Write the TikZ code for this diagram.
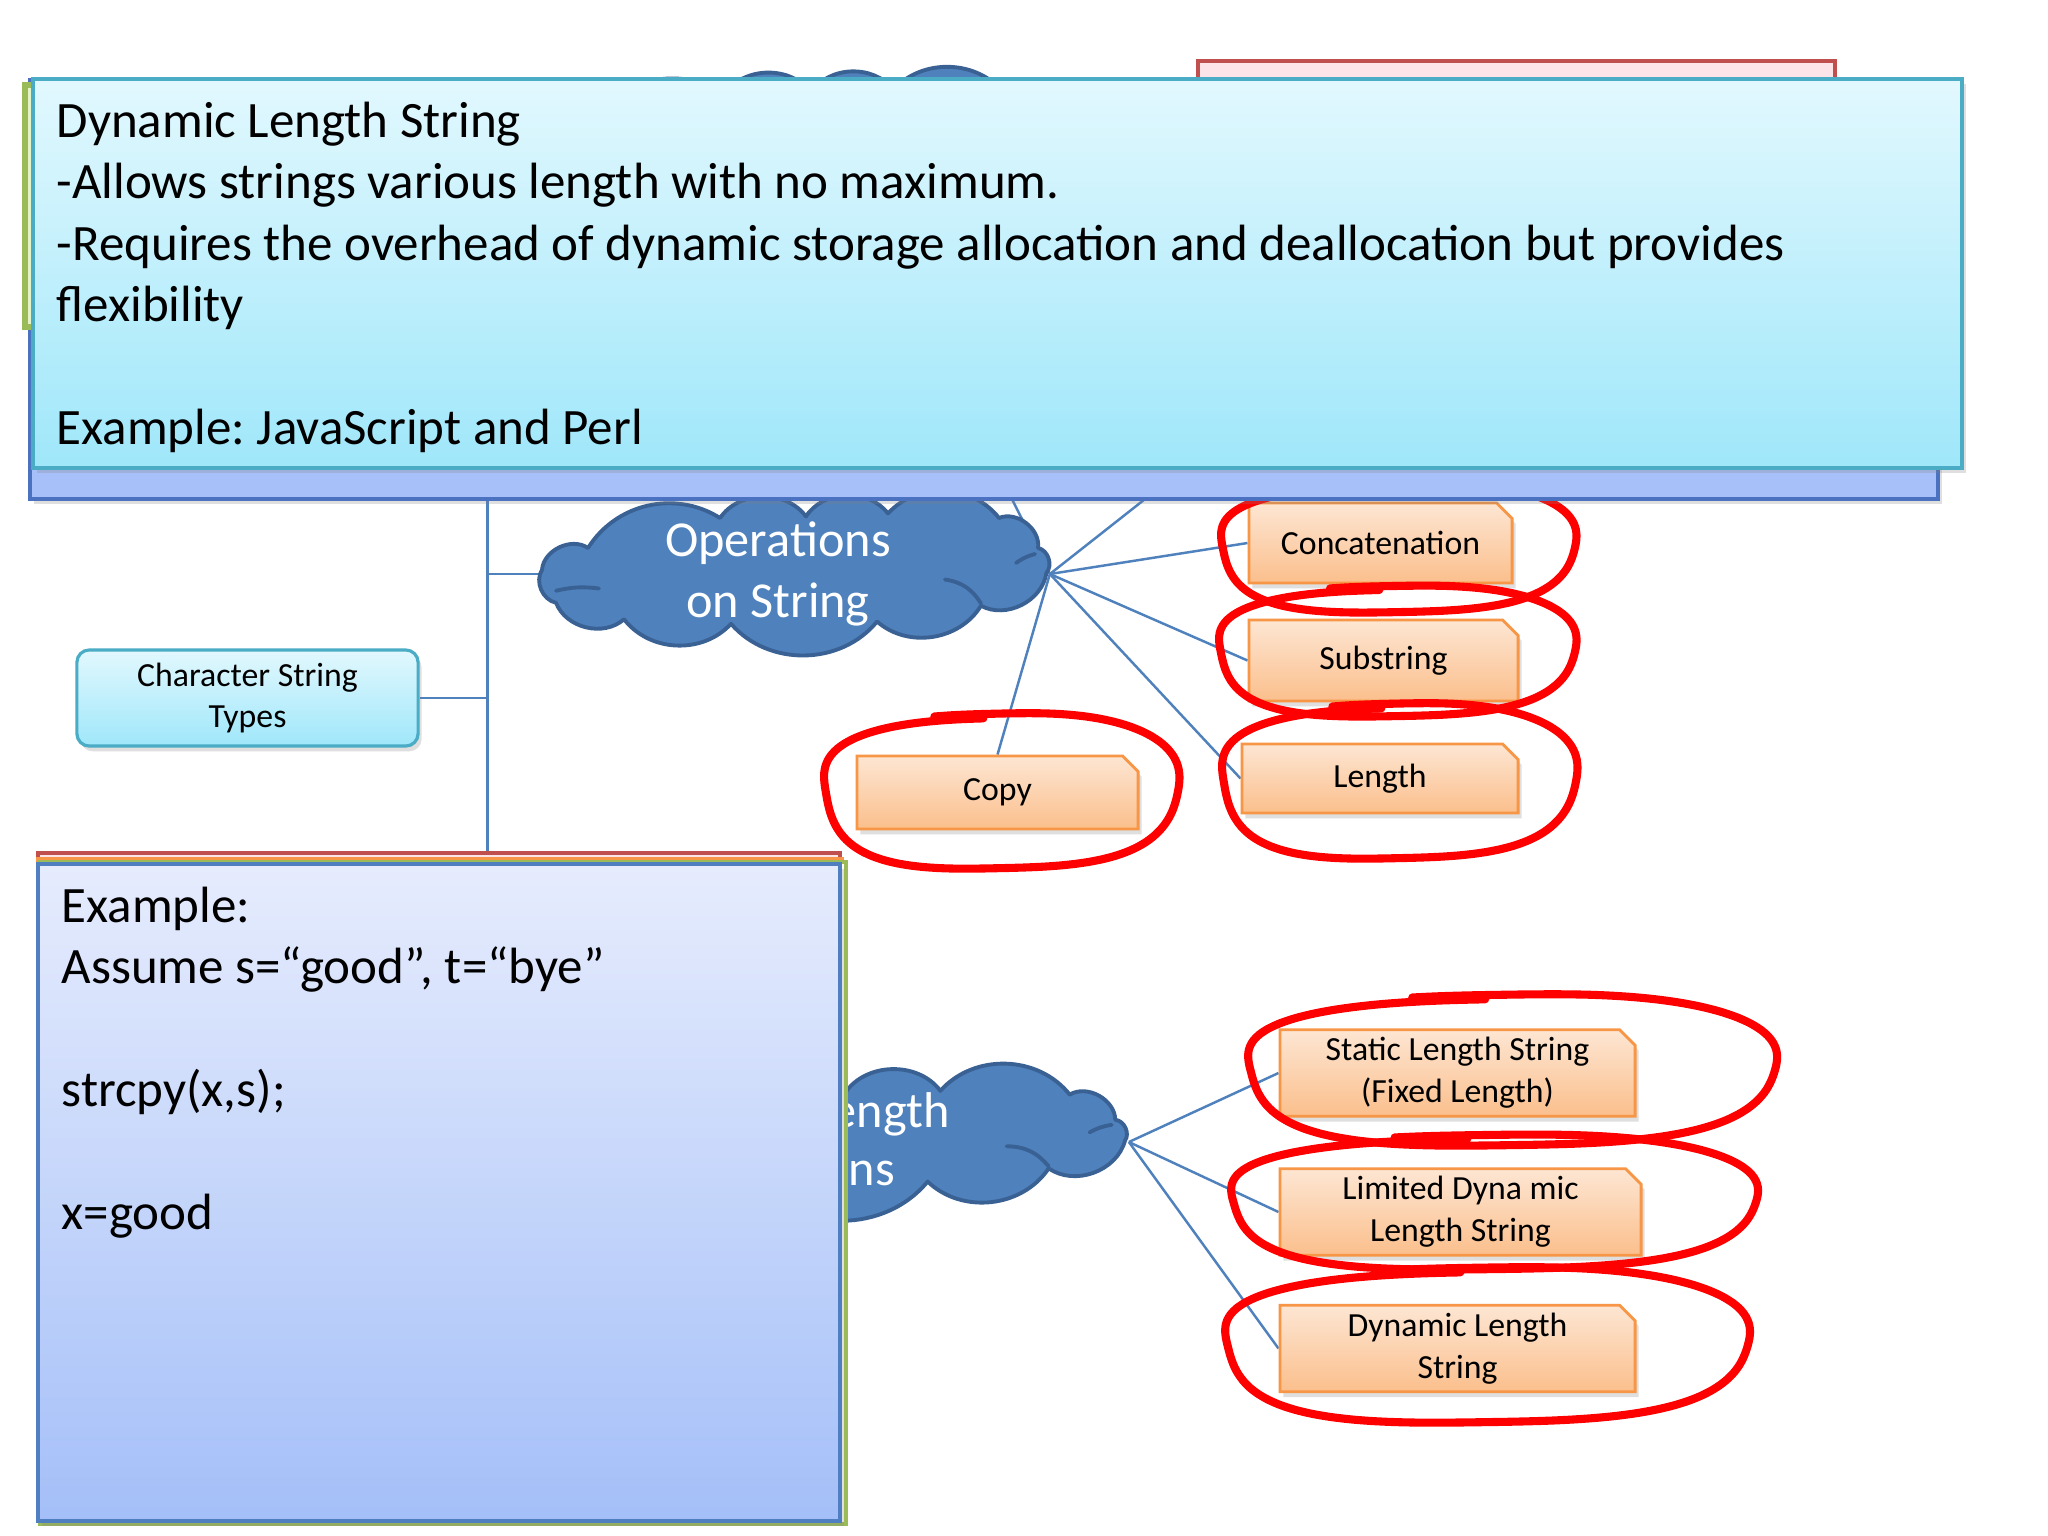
\documentclass[tikz,border=0pt]{standalone}
\usepackage{fontspec}
\setmainfont{Carlito}
\frenchspacing
\usetikzlibrary{shapes.misc,shadows}
\definecolor{cyanborder}{HTML}{4BACC6}
\definecolor{cyantop}{HTML}{E2F8FE}
\definecolor{cyanbot}{HTML}{9FE7FA}
\definecolor{lavfill}{HTML}{A7C0F9}
\definecolor{lavborder}{HTML}{4A72C0}
\definecolor{extop}{HTML}{E6ECFD}
\definecolor{exbot}{HTML}{A4BFF8}
\definecolor{exborder}{HTML}{4F7EC1}
\definecolor{orgtop}{HTML}{FDE6D3}
\definecolor{orgbot}{HTML}{FBBF8C}
\definecolor{orgborder}{HTML}{F79646}
\definecolor{cloudfill}{HTML}{4F81BD}
\definecolor{cloudborder}{HTML}{3A6194}
\definecolor{linkc}{HTML}{4F81BD}
\definecolor{penred}{HTML}{FF0000}
\definecolor{pinkfill}{HTML}{FDE4E8}
\definecolor{pinkborder}{HTML}{C0504D}
\definecolor{greenborder}{HTML}{9BBB59}
\definecolor{greenfill}{HTML}{E4F2C8}
\pgfdeclarelayer{bgzero}
\pgfdeclarelayer{background}
\pgfsetlayers{bgzero,background,main}
\newcommand{\penloop}[4]{%
  \draw[pen] plot[smooth, samples=80, domain=95:470, variable=\t]
   ({#1 + #3*(1 + 0.03*sin(3*\t+20) + 0.05*(\t-95)/375)*pow(abs(cos(\t))^2.6 + abs(sin(\t))^2.6, -1/2.6)*cos(\t)},
    {#2 - #4*(1 + 0.04*sin(2*\t+40) + 0.06*(\t-95)/375)*pow(abs(cos(\t))^2.6 + abs(sin(\t))^2.6, -1/2.6)*sin(\t)});
}
% cloud outline: centre x, centre y, half width, half height
\newcommand{\cloudpath}[4]{%
  \path[cloudline] ({#1-0.996*#3},{#2-0.11*#4})
     to[bend left=60] ({#1-0.815*#3},{#2-0.40*#4})
     to[bend left=45] ({#1-0.295*#3},{#2-0.80*#4})
     to[bend left=55] ({#1+0.043*#3},{#2-0.82*#4})
     to[bend left=55] ({#1+0.366*#3},{#2-0.86*#4})
     to[bend left=50] ({#1+0.803*#3},{#2-0.80*#4})
     to[bend left=60] ({#1+0.957*#3},{#2-0.40*#4})
     to[bend left=60] ({#1+0.99*#3},{#2-0.07*#4})
     to[bend left=55] ({#1+0.732*#3},{#2+0.37*#4})
     to[bend left=50] ({#1+0.323*#3},{#2+0.58*#4})
     to[bend left=50] ({#1-0.252*#3},{#2+0.61*#4})
     to[bend left=50] ({#1-0.673*#3},{#2+0.55*#4})
     to[bend left=55] ({#1-0.941*#3},{#2+0.33*#4})
     to[bend left=55] ({#1-0.996*#3},{#2-0.11*#4}) -- cycle;
  \draw[cloudinner] ({#1-0.941*#3},{#2+0.17*#4}) to[bend left=10] ({#1-0.772*#3},{#2+0.14*#4});
  \draw[cloudinner] ({#1+0.870*#3},{#2-0.20*#4}) to[bend left=10] ({#1+0.945*#3},{#2-0.32*#4});
  \draw[cloudinner] ({#1+0.59*#3},{#2+0.02*#4}) to[bend left=25] ({#1+0.732*#3},{#2+0.34*#4});
}
\tikzset{
  link/.style={draw=linkc, line width=0.7pt},
  pen/.style={draw=penred, line width=2.3pt, line cap=round, line join=round},
  softshadow/.style={drop shadow={shadow xshift=1pt, shadow yshift=-1.5pt, opacity=0.25}},
  opbox/.style={chamfered rectangle, chamfered rectangle corners=north east,
    chamfered rectangle xsep=2.2pt, chamfered rectangle ysep=2.2pt,
    draw=orgborder, line width=0.8pt, top color=orgtop, bottom color=orgbot,
    font=\fontsize{9.6}{11.9}\selectfont, align=center, inner sep=0pt, softshadow},
  cloudline/.style={draw=cloudborder, line width=1.1pt, fill=cloudfill, line join=round},
  cloudinner/.style={draw=cloudborder, line width=1.1pt, line cap=round},
  cloudanchor/.style={rectangle, inner sep=0pt, draw=none},
  cloudtext/.style={anchor=base, inner sep=0pt, text=white, font=\fontsize{14.3}{17.5}\selectfont},
  bigtext/.style={anchor=base west, inner sep=0pt, font=\fontsize{14.5}{17.5}\selectfont},
  stbox/.style={rounded corners=3.5pt, draw=cyanborder, line width=0.9pt,
    top color=cyantop, bottom color=cyanbot, align=center,
    font=\fontsize{9.6}{11.9}\selectfont, inner sep=0pt, softshadow},
}
\begin{document}
\begin{tikzpicture}[x=0.01cm,y=-0.01cm]
\useasboundingbox (0,0) rectangle (2048,1536);
\begin{pgfonlayer}{bgzero}
\fill[white] (0,0) rectangle (2048,1536);
\end{pgfonlayer}

% hidden items at the top
\cloudpath{800}{150}{255}{70}
\node[cloudanchor, minimum width=5.1cm, minimum height=1.4cm] (topcloud) at (800,150) {};
\path[draw=pinkborder, line width=1pt, fill=pinkfill] (1198,61) rectangle (1835,420);

% main nodes
\node[stbox, minimum width=3.41cm, minimum height=0.96cm] (cst) at (247.5,698) {Character String\\Types};
\cloudpath{795}{578}{254}{75}
\node[cloudanchor, minimum width=5.08cm, minimum height=1.5cm] (ops) at (795,574) {};
\node[cloudtext] (opst1) at (778,556) {Operations};
\node[cloudtext] (opst2) at (778,617) {on String};
\cloudpath{832}{1145}{296}{63}
\node[cloudanchor, minimum width=5.92cm, minimum height=1.26cm] (slo) at (832,1142) {};
\node[cloudtext] (slot1) at (815,1127) {String Length};
\node[cloudtext] (slot2) at (815,1185) {Options};

\coordinate (h1) at (982,440);
\coordinate (h2) at (1220,440);

\node[opbox, minimum width=2.63cm, minimum height=0.80cm] (concat) at (1380.5,543) {Concatenation};
\node[opbox, minimum width=2.69cm, minimum height=0.81cm] (sub) at (1383.5,660.5) {Substring};
\node[opbox, minimum width=2.76cm, minimum height=0.69cm] (len) at (1380,778.5) {Length};
\node[opbox, minimum width=2.81cm, minimum height=0.73cm] (copy) at (997.5,792.5) {Copy};
\node[opbox, minimum width=3.55cm, minimum height=0.80cm] (static) at (1457.5,1073) {Static Length String\\(Fixed Length)};
\node[opbox, minimum width=3.61cm, minimum height=0.82cm] (limited) at (1460.5,1212) {Limited Dyna mic\\Length String};
\node[opbox, minimum width=3.55cm, minimum height=0.69cm] (dynamic) at (1457.5,1348.5) {Dynamic Length\\String};

% connectors
\begin{pgfonlayer}{background}
\draw[link] (cst.east) -- ++(68,0) |- (ops.west);
\draw[link] (cst.east) -- ++(68,0) |- (slo.west);
\draw[link] (cst.east) -- ++(68,0) |- (topcloud.west);
\draw[link] (ops.east) -- (concat.west);
\draw[link] (ops.east) -- (sub.west);
\draw[link] (ops.east) -- (len.west);
\draw[link] (ops.east) -- (copy.north);
\draw[link] (ops.east) -- (h1);
\draw[link] (ops.east) -- (h2);
\draw[link] (slo.east) -- (static.west);
\draw[link] (slo.east) -- (limited.west);
\draw[link] (slo.east) -- (dynamic.west);
\end{pgfonlayer}

% red pen loops
\penloop{1395}{548}{172}{64}
\penloop{1394}{652}{173}{64}
\penloop{1396}{782}{172}{76}
\penloop{998}{792}{172}{76}
\penloop{1507}{1071}{256}{74}
\penloop{1489}{1203}{255}{66}
\penloop{1482}{1346}{254}{76}

% top overlay boxes
\path[draw=lavborder, line width=1.2pt, fill=lavfill, softshadow] (30,80) rectangle (1938,499);
\path[draw=greenborder, line width=1.5pt, fill=greenfill] (25,85) rectangle (700,327);
\path[draw=cyanborder, line width=1.2pt, top color=cyantop, bottom color=cyanbot, softshadow] (33,79) rectangle (1962,468);
\node[bigtext] (t1) at (56,137) {Dynamic Length String};
\node[bigtext] (t2) at (56,198.5) {-Allows strings various length with no maximum.};
\node[bigtext] (t3) at (56,260) {-Requires the overhead of dynamic storage allocation and deallocation but provides};
\node[bigtext] (t4) at (56,321.5) {flexibility};
\node[bigtext] (t5) at (56,444.5) {Example: JavaScript and Perl};

% example stack
\path[draw=pinkborder, line width=1pt, fill=pinkfill] (38,853) rectangle (840,1518);
\path[draw=orgborder, line width=1pt, fill=white] (38,859) rectangle (842,1520);
\path[draw=greenborder, line width=1pt, fill=white] (40,862) rectangle (846,1524);
\path[draw=exborder, line width=1.2pt, top color=extop, bottom color=exbot, softshadow] (38,864) rectangle (840,1521);
\node[bigtext] (e1) at (61,922) {Example:};
\node[bigtext] (e2) at (61,983.5) {Assume s=“good”, t=“bye”};
\node[bigtext] (e3) at (61,1106.5) {strcpy(x,s);};
\node[bigtext] (e4) at (61,1229.5) {x=good};
\end{tikzpicture}
\end{document}
